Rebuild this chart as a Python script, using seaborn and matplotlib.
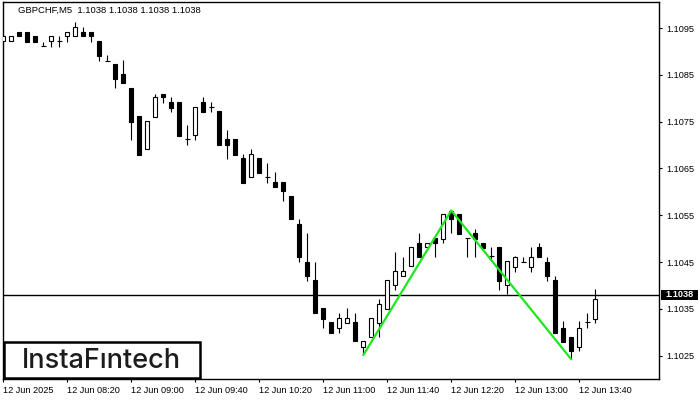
import matplotlib
matplotlib.use("Agg")
import matplotlib.pyplot as plt
import seaborn as sns
from matplotlib.patches import Rectangle

# GBPCHF M5 candles, 12 Jun 2025 from 07:40
opens = [1.10922, 1.10922, 1.10941, 1.10941, 1.10932, 1.10911, 1.10922, 1.10922, 1.10932, 1.10932,
         1.10941, 1.10941, 1.10922, 1.10880, 1.10873, 1.10852, 1.10821, 1.10762, 1.10691, 1.10760,
         1.10810, 1.10791, 1.10791, 1.10712, 1.10721, 1.10791, 1.10782, 1.10773, 1.10713, 1.10713,
         1.10672, 1.10631, 1.10672, 1.10631, 1.10621, 1.10621, 1.10591, 1.10531, 1.10451, 1.10412,
         1.10352, 1.10322, 1.10310, 1.10320, 1.10322, 1.10269, 1.10290, 1.10320, 1.10350, 1.10400,
         1.10421, 1.10441, 1.10491, 1.10481, 1.10501, 1.10499, 1.10558, 1.10553, 1.10501, 1.10511,
         1.10491, 1.10462, 1.10481, 1.10400, 1.10440, 1.10451, 1.10440, 1.10482, 1.10451, 1.10412,
         1.10310, 1.10290, 1.10269, 1.10322, 1.10329]
highs = [1.10932, 1.10932, 1.10941, 1.10941, 1.10932, 1.10921, 1.10932, 1.10932, 1.10941, 1.10963,
         1.10952, 1.10941, 1.10922, 1.10892, 1.10873, 1.10882, 1.10821, 1.10762, 1.10751, 1.10810,
         1.10810, 1.10802, 1.10791, 1.10743, 1.10781, 1.10802, 1.10791, 1.10773, 1.10732, 1.10713,
         1.10681, 1.10691, 1.10672, 1.10662, 1.10642, 1.10621, 1.10591, 1.10541, 1.10511, 1.10451,
         1.10352, 1.10322, 1.10340, 1.10352, 1.10340, 1.10281, 1.10330, 1.10370, 1.10412, 1.10471,
         1.10461, 1.10481, 1.10513, 1.10491, 1.10501, 1.10553, 1.10560, 1.10553, 1.10501, 1.10521,
         1.10491, 1.10481, 1.10481, 1.10452, 1.10462, 1.10461, 1.10483, 1.10490, 1.10461, 1.10421,
         1.10324, 1.10290, 1.10324, 1.10341, 1.10392]
lows = [1.10922, 1.10922, 1.10932, 1.10921, 1.10921, 1.10911, 1.10910, 1.10910, 1.10921, 1.10932,
        1.10932, 1.10921, 1.10880, 1.10880, 1.10821, 1.10832, 1.10711, 1.10679, 1.10691, 1.10760,
        1.10790, 1.10771, 1.10720, 1.10701, 1.10711, 1.10771, 1.10771, 1.10700, 1.10671, 1.10679,
        1.10619, 1.10631, 1.10641, 1.10619, 1.10611, 1.10581, 1.10541, 1.10451, 1.10410, 1.10340,
        1.10310, 1.10299, 1.10299, 1.10320, 1.10281, 1.10251, 1.10290, 1.10290, 1.10350, 1.10390,
        1.10421, 1.10441, 1.10460, 1.10481, 1.10460, 1.10490, 1.10511, 1.10510, 1.10460, 1.10460,
        1.10475, 1.10455, 1.10390, 1.10381, 1.10429, 1.10451, 1.10429, 1.10460, 1.10410, 1.10298,
        1.10280, 1.10242, 1.10260, 1.10309, 1.10320]
closes = [1.10932, 1.10932, 1.10932, 1.10921, 1.10921, 1.10911, 1.10932, 1.10922, 1.10941, 1.10952,
          1.10932, 1.10932, 1.10891, 1.10880, 1.10840, 1.10832, 1.10750, 1.10679, 1.10751, 1.10802,
          1.10802, 1.10780, 1.10720, 1.10712, 1.10781, 1.10771, 1.10782, 1.10700, 1.10701, 1.10679,
          1.10619, 1.10681, 1.10641, 1.10631, 1.10611, 1.10601, 1.10541, 1.10460, 1.10421, 1.10340,
          1.10329, 1.10299, 1.10330, 1.10330, 1.10281, 1.10281, 1.10330, 1.10360, 1.10412, 1.10431,
          1.10431, 1.10481, 1.10460, 1.10491, 1.10490, 1.10553, 1.10541, 1.10510, 1.10501, 1.10500,
          1.10480, 1.10462, 1.10410, 1.10452, 1.10460, 1.10451, 1.10461, 1.10460, 1.10421, 1.10298,
          1.10280, 1.10260, 1.10310, 1.10322, 1.10370]

# double top / bottom pattern drawn in green (bar index, price)
pattern_bars = [45, 56, 71]
pattern_prices = [1.10251, 1.10560, 1.10242]

last_price = 1.1038
title = "GBPCHF,M5  1.1038 1.1038 1.1038 1.1038"
time_tick_bars = [0, 8, 16, 24, 32, 40, 48, 56, 64, 72]
time_tick_labels = ["12 Jun 2025", "12 Jun 08:20", "12 Jun 09:00", "12 Jun 09:40", "12 Jun 10:20",
                    "12 Jun 11:00", "12 Jun 11:40", "12 Jun 12:20", "12 Jun 13:00", "12 Jun 13:40"]
price_ticks = [1.1025, 1.1035, 1.1045, 1.1055, 1.1065, 1.1075, 1.1085, 1.1095]

sns.set_style("white")
plt.rcParams['font.family'] = ['Liberation Sans', 'DejaVu Sans']

W, H = 700, 400
fig = plt.figure(figsize=(7, 4), dpi=100)
ax = fig.add_axes([2.5 / W, 1 - 379.3 / H, (659.3 - 2.5) / W, (379.3 - 2.3) / H])

# candles
for i in range(len(opens)):
    o, h, l, c = opens[i], highs[i], lows[i], closes[i]
    ax.vlines(i, l, h, color='black', lw=0.8, zorder=2)
    if c > o:
        ax.bar(i, c - o, bottom=o, width=0.5, color='white', edgecolor='black', linewidth=0.8, zorder=3)
    elif c < o:
        ax.bar(i, o - c, bottom=c, width=0.5, color='black', edgecolor='black', linewidth=0.8, zorder=3)
    else:
        ax.hlines(o, i - 0.32, i + 0.32, color='black', lw=0.8, zorder=3)

ax.axhline(last_price, color='black', lw=1, zorder=1)

sns.lineplot(x=pattern_bars, y=pattern_prices, color='#1ee61e', lw=1.6, ax=ax, zorder=4)

ax.set_xlim((2.5 - 3.3) / 8, (659.3 - 3.3) / 8)
ax.set_ylim(1.1095 - (379.3 - 28) / 46800, 1.1095 + (28 - 2.3) / 46800)

ax.yaxis.tick_right()
ax.set_yticks(price_ticks)
ax.set_yticklabels(["%.4f" % p for p in price_ticks])
ax.set_xticks(time_tick_bars)
ax.set_xticklabels(time_tick_labels, ha='left')
ax.tick_params(axis='y', right=True, left=False, length=2.5, width=0.8, labelsize=6.6, pad=2.5, colors='black')
ax.tick_params(axis='x', bottom=True, length=2.5, width=0.8, labelsize=6.6, pad=2.5, colors='black')
for lab in ax.get_xticklabels():
    lab.set_horizontalalignment('left')
ax.set_xlabel("")
ax.set_ylabel("")
for s in ax.spines.values():
    s.set_color('black')
    s.set_linewidth(1)

# current price tag
fig.patches.append(Rectangle((660.7 / W, 1 - 299.5 / H), 37 / W, 10 / H, transform=fig.transFigure,
                             facecolor='black', edgecolor='none', zorder=5))
fig.text(679 / W, 1 - 294.7 / H, "%.4f" % last_price, color='white', fontsize=6.6,
         ha='center', va='center', fontweight='bold', zorder=6)

fig.text(18 / W, 1 - 10.7 / H, title, fontsize=6.8, ha='left', va='center', color='black')

# watermark box
fig.patches.append(Rectangle((3.7 / W, 1 - 377.7 / H), 196.6 / W, 36 / H, transform=fig.transFigure,
                             facecolor='white', edgecolor='black', linewidth=1.8, zorder=5))
fig.text(101.5 / W, 1 - 368.3 / H, "InstaF\u0131ntech", fontsize=19.5, ha='center', va='baseline',
         color='#1c1c1c', family=['Inter', 'DejaVu Sans'], fontweight='medium', zorder=6)

fig.savefig("out.png", dpi=100)
